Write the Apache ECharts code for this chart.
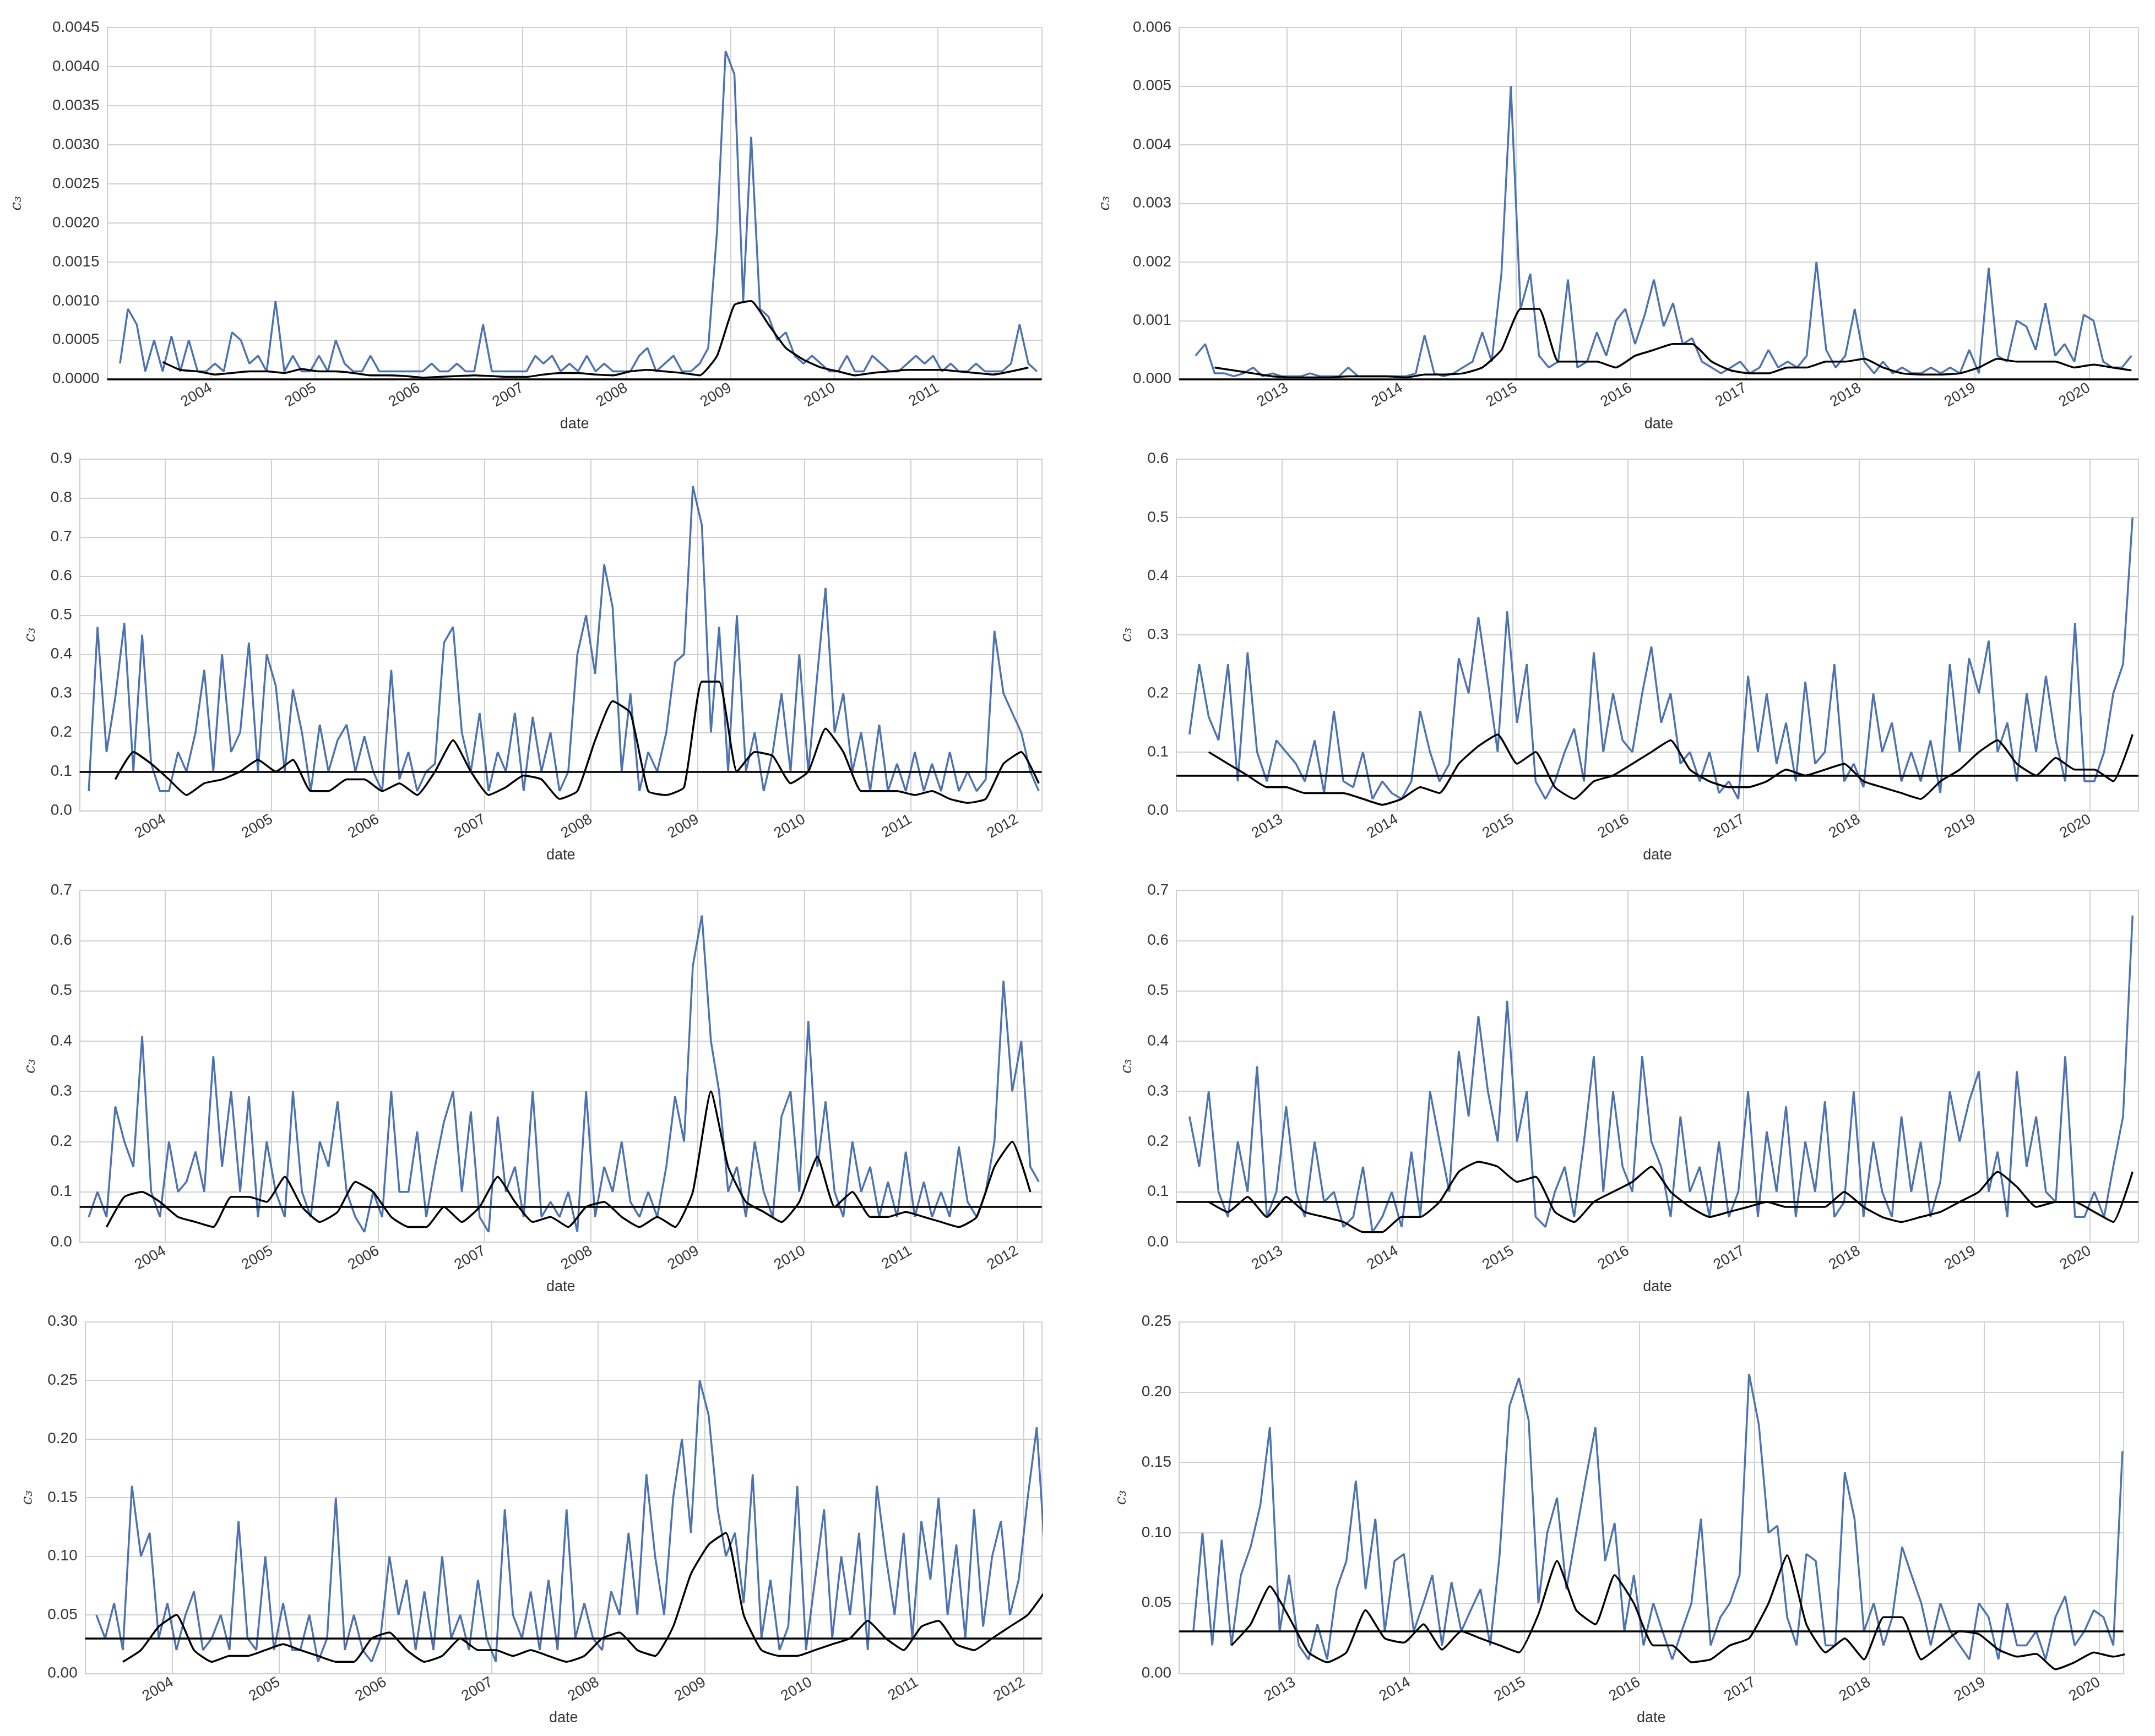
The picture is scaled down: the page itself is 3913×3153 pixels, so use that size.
<!DOCTYPE html>
<html><head><meta charset="utf-8">
<script src="https://cdn.jsdelivr.net/npm/echarts@6/dist/echarts.min.js"></script>
<style>html,body{margin:0;padding:0;background:#fff}#c{width:3913px;height:3153px}</style>
</head><body><div id="c"></div>
<script>
// ---------- data (monthly blue values, bi-monthly moving average, overall mean) ----------
const blueA_start='2003-02';
const blueA=[.0002,.0009,.0007,.0001,.0005,.0001,.00055,.0001,.0005,.0001,.0001,
.0002,.0001,.0006,.0005,.0002,.0003,.0001,.001,.0001,.0003,.0001,.0001,
.0003,.0001,.0005,.0002,.0001,.0001,.0003,.0001,.0001,.0001,.0001,.0001,
.0001,.0002,.0001,.0001,.0002,.0001,.0001,.0007,.0001,.0001,.0001,.0001,
.0001,.0003,.0002,.0003,.0001,.0002,.0001,.0003,.0001,.0002,.0001,.0001,
.0001,.0003,.0004,.0001,.0002,.0003,.0001,.0001,.0002,.0004,.0019,.0042,
.0039,.001,.0031,.0009,.0008,.0005,.0006,.0003,.0002,.0003,.0002,.0001,
.0001,.0003,.0001,.0001,.0003,.0002,.0001,.0001,.0002,.0003,.0002,.0003,
.0001,.0002,.0001,.0001,.0002,.0001,.0001,.0001,.0002,.0007,.0002,.0001];
const maA_start='2003-07';
const maA=[.00022,.00012,.0001,.00006,.00008,.0001,.0001,.00008,.00013,.0001,.0001,.00008,.00005,.00005,.00004,
.00002,.00003,.00004,.00005,.00004,.00003,.00003,.00006,.00008,.00008,.00006,.00005,.0001,.00012,.0001,.00008,.00005,.0003,
.00095,.001,.0007,.0004,.00025,.00015,.0001,.00005,.00008,.0001,.00012,.00012,.00012,.0001,.00008,.00006,.0001,.00015];
const meanA=0.00012;

const blueB_start='2012-03';
const blueB=[.0004,.0006,.0001,.0001,.00005,.0001,.0002,.00005,.0001,.00005,
.00005,.00005,.0001,.00005,.00005,.00005,.0002,.00005,.00005,.00005,.00005,.00005,
.00005,.0001,.00075,.0001,.00005,.0001,.0002,.0003,.0008,.0003,.0018,.005,
.0012,.0018,.0004,.0002,.0003,.0017,.0002,.0003,.0008,.0004,.001,.0012,
.0006,.0011,.0017,.0009,.0013,.0006,.0007,.0003,.0002,.0001,.0002,.0003,
.0001,.0002,.0005,.0002,.0003,.0002,.0004,.002,.0005,.0002,.0004,.0012,
.0003,.0001,.0003,.0001,.0002,.0001,.0001,.0002,.0001,.0002,.0001,.0005,
.0001,.0019,.0004,.0003,.001,.0009,.0005,.0013,.0004,.0006,.0003,.0011,
.001,.0003,.0002,.0002,.0004];
const maB_start='2012-05';
const maB=[.0002,.00015,.0001,.00005,.00003,.00003,.00003,.00005,.00005,.00005,
.00003,.00008,.00008,.0001,.0002,.0005,.0012,.0012,.0003,.0003,.0003,.0002,
.0004,.0005,.0006,.0006,.0003,.00015,.0001,.0001,.0002,.0002,.0003,.0003,
.00035,.0002,.0001,.00008,.00008,.0001,.0002,.00035,.0003,.0003,.0003,.0002,.00025,.0002,.00015];
const meanB=0.00019;

const blueC_start='2003-04';
const blueC=[.05,.47,.15,.29,.48,.1,.45,.12,.05,
.05,.15,.1,.2,.36,.1,.4,.15,.2,.43,.1,.4,
.32,.1,.31,.2,.05,.22,.1,.18,.22,.1,.19,.1,
.05,.36,.08,.15,.05,.1,.12,.43,.47,.2,.1,.25,
.05,.15,.1,.25,.05,.24,.1,.2,.05,.1,.4,.5,
.35,.63,.52,.1,.3,.05,.15,.1,.2,.38,.4,.83,
.73,.2,.47,.1,.5,.1,.2,.05,.15,.3,.1,.4,
.1,.35,.57,.2,.3,.1,.2,.05,.22,.05,.12,.05,
.15,.05,.12,.05,.15,.05,.1,.05,.08,.46,.3,.25,
.2,.1,.05];
const maC_start='2003-07';
const maC=[.08,.15,.12,.08,.04,.07,.08,.1,.13,.1,.13,.05,.05,.08,.08,
.05,.07,.04,.1,.18,.1,.04,.06,.09,.08,.03,.05,.18,.28,.25,.05,.04,.06,
.33,.33,.1,.15,.14,.07,.1,.21,.15,.05,.05,.05,.04,.05,.03,.02,.03,.12,.15,.07];
const meanC=0.095;

const blueD_start='2012-03';
const blueD=[.13,.25,.16,.12,.25,.05,.27,.1,.05,.12,
.1,.08,.05,.12,.03,.17,.05,.04,.1,.02,.05,.03,
.02,.05,.17,.1,.05,.08,.26,.2,.33,.22,.1,.34,
.15,.25,.05,.02,.05,.1,.14,.05,.27,.1,.2,.12,
.1,.2,.28,.15,.2,.08,.1,.05,.1,.03,.05,.02,
.23,.1,.2,.08,.15,.05,.22,.08,.1,.25,.05,.08,
.04,.2,.1,.15,.05,.1,.05,.12,.03,.25,.1,.26,
.2,.29,.1,.15,.05,.2,.1,.23,.12,.05,.32,.05,
.05,.1,.2,.25,.5];
const maD_start='2012-05';
const maD=[.1,.08,.06,.04,.04,.03,.03,.03,.02,.01,.02,.04,.03,.08,.11,.13,
.08,.1,.04,.02,.05,.06,.08,.1,.12,.07,.05,.04,.04,.05,.07,.06,.07,.08,
.05,.04,.03,.02,.05,.07,.1,.12,.08,.06,.09,.07,.07,.05,.13];
const meanD=0.055;

const blueE_start='2003-04';
const blueE=[.05,.1,.05,.27,.2,.15,.41,.1,.05,
.2,.1,.12,.18,.1,.37,.15,.3,.1,.29,.05,.2,
.1,.05,.3,.1,.05,.2,.15,.28,.1,.05,.02,.1,
.05,.3,.1,.1,.22,.05,.15,.24,.3,.1,.26,.05,
.02,.25,.1,.15,.05,.3,.05,.08,.05,.1,.02,.3,
.05,.15,.1,.2,.08,.05,.1,.05,.15,.29,.2,.55,
.65,.4,.3,.1,.15,.05,.2,.1,.05,.25,.3,.1,
.44,.15,.28,.1,.05,.2,.1,.15,.05,.12,.05,.18,
.05,.12,.05,.1,.05,.19,.08,.05,.1,.2,.52,.3,
.4,.15,.12];
const maE_start='2003-06';
const maE=[.03,.09,.1,.08,.05,.04,.03,.09,.09,.08,.13,.07,.04,.06,.12,.1,
.05,.03,.03,.07,.04,.07,.13,.08,.04,.05,.03,.07,.08,.05,.03,.05,.03,.1,
.3,.15,.08,.06,.04,.08,.17,.07,.1,.05,.05,.06,.05,.04,.03,.05,.15,.2,.1];
const meanE=0.075;

const blueF_start='2012-03';
const blueF=[.25,.15,.3,.1,.05,.2,.1,.35,.05,.1,
.27,.1,.05,.2,.08,.1,.03,.05,.15,.02,.05,.1,
.03,.18,.05,.3,.2,.1,.38,.25,.45,.3,.2,.48,
.2,.3,.05,.03,.1,.15,.05,.2,.37,.1,.3,.15,
.1,.37,.2,.15,.05,.25,.1,.15,.05,.2,.05,.1,
.3,.05,.22,.1,.27,.05,.2,.1,.28,.05,.08,.3,
.05,.2,.1,.05,.25,.1,.2,.05,.12,.3,.2,.28,
.34,.1,.18,.05,.34,.15,.25,.1,.08,.37,.05,.05,
.1,.05,.15,.25,.65];
const maF_start='2012-05';
const maF=[.08,.06,.09,.05,.09,.06,.05,.04,.02,.02,.05,.05,.08,.14,.16,.15,
.12,.13,.06,.04,.08,.1,.12,.15,.1,.07,.05,.06,.07,.08,.07,.07,.07,.1,
.07,.05,.04,.05,.06,.08,.1,.14,.11,.07,.08,.08,.06,.04,.14];
const meanF=0.078;

const blueG_start='2003-04';
const blueG=[.05,.03,.06,.02,.16,.1,.12,.03,.06,
.02,.05,.07,.02,.03,.05,.02,.13,.03,.02,.1,.02,
.06,.02,.02,.05,.01,.03,.15,.02,.05,.02,.01,.03,
.1,.05,.08,.02,.07,.02,.1,.03,.05,.02,.08,.03,
.01,.14,.05,.03,.07,.02,.08,.02,.14,.03,.06,.03,
.02,.07,.05,.12,.05,.17,.1,.05,.15,.2,.12,.25,
.22,.14,.1,.12,.06,.17,.03,.08,.02,.04,.16,.02,
.08,.14,.03,.1,.05,.12,.02,.16,.1,.05,.12,.03,
.13,.08,.15,.05,.11,.03,.14,.04,.1,.13,.05,.08,
.15,.21,.1];
const maG_start='2003-07';
const maG=[.01,.02,.04,.05,.02,.01,.015,.015,.02,.025,.02,.015,.01,.01,.03,
.035,.02,.01,.015,.03,.02,.02,.015,.02,.015,.01,.015,.03,.035,.02,.015,.04,.085,
.11,.12,.05,.02,.015,.015,.02,.025,.03,.045,.03,.02,.04,.045,.025,.02,.03,.04,.05,.07];
const meanG=0.026;

const blueH_start='2012-02';
const blueH=[.03,.1,.02,.095,.02,.07,.09,.12,.175,.03,.07,
.02,.01,.035,.01,.06,.08,.137,.06,.11,.03,.08,.085,
.03,.05,.07,.02,.065,.03,.045,.06,.02,.085,.19,.21,
.18,.05,.1,.125,.06,.1,.138,.175,.08,.107,.03,.07,
.02,.05,.03,.01,.03,.05,.11,.02,.04,.05,.07,.213,
.177,.1,.105,.04,.02,.085,.08,.02,.02,.143,.11,.03,
.05,.02,.04,.09,.07,.05,.02,.05,.03,.02,.01,.05,
.04,.01,.05,.02,.02,.03,.01,.04,.055,.02,.03,.045,
.04,.02,.158];
const maH_start='2012-06';
const maH=[.02,.035,.062,.04,.015,.008,.015,.045,.025,.022,.035,.017,.03,.025,.02,.015,
.042,.08,.045,.035,.07,.05,.02,.02,.008,.01,.02,.025,.05,.084,.035,.015,.025,.01,
.04,.04,.01,.02,.03,.028,.017,.012,.014,.003,.008,.015,.012,.015];
const meanH=0.025;

// ---------- layout ----------
const S=2.4955;
const panels=[
 {b:blueA,bs:blueA_start,m:maA,ms:maA_start,mean:meanA,x0:78,x1:758,y0:20,y1:276,xmin:2003.0,xmax:2012.0,ymax:.0045,iv:.0005,dec:4},
 {b:blueB,bs:blueB_start,m:maB,ms:maB_start,mean:meanB,x0:858,x1:1556,y0:20,y1:276,xmin:2012.06,xmax:2020.43,ymax:.006,iv:.001,dec:3},
 {b:blueC,bs:blueC_start,m:maC,ms:maC_start,mean:meanC,x0:58,x1:758,y0:334,y1:590,xmin:2003.2,xmax:2012.23,ymax:.9,iv:.1,dec:1},
 {b:blueD,bs:blueD_start,m:maD,ms:maD_start,mean:meanD,x0:856,x1:1556,y0:334,y1:590,xmin:2012.09,xmax:2020.42,ymax:.6,iv:.1,dec:1},
 {b:blueE,bs:blueE_start,m:maE,ms:maE_start,mean:meanE,x0:58,x1:758,y0:648,y1:904,xmin:2003.2,xmax:2012.23,ymax:.7,iv:.1,dec:1},
 {b:blueF,bs:blueF_start,m:maF,ms:maF_start,mean:meanF,x0:856,x1:1556,y0:648,y1:904,xmin:2012.09,xmax:2020.42,ymax:.7,iv:.1,dec:1},
 {b:blueG,bs:blueG_start,m:maG,ms:maG_start,mean:meanG,x0:62,x1:758,y0:962,y1:1218,xmin:2003.18,xmax:2012.17,ymax:.30,iv:.05,dec:2},
 {b:blueH,bs:blueH_start,m:maH,ms:maH_start,mean:meanH,x0:858,x1:1545,y0:962,y1:1218,xmin:2012.0,xmax:2020.21,ymax:.25,iv:.05,dec:2}
];
function yearToMs(y){const yi=Math.floor(y);const a=Date.UTC(yi,0,1),b=Date.UTC(yi+1,0,1);return a+(y-yi)*(b-a);}
function series(vals,start,step){const [y,m]=start.split('-').map(Number);return vals.map((v,i)=>{const mm=m-1+i*step;return [Date.UTC(y+Math.floor(mm/12),mm%12,15),v];});}
const grid=[],xAxis=[],yAxis=[],ser=[];
panels.forEach((p,i)=>{
 const mn=yearToMs(p.xmin),mx=yearToMs(p.xmax);
 grid.push({left:p.x0*S,width:(p.x1-p.x0)*S,top:p.y0*S,height:(p.y1-p.y0)*S,containLabel:false});
 xAxis.push({type:'time',gridIndex:i,min:mn,max:mx,splitNumber:9,
  minInterval:365*86400000,
  name:'date',nameLocation:'middle',nameGap:68,nameTextStyle:{fontSize:27,color:'#333',fontFamily:'Liberation Sans'},
  axisLine:{show:true,lineStyle:{color:'#ccc',width:2}},axisTick:{show:false},
  axisLabel:{rotate:30,fontSize:27,color:'#333',fontFamily:'Liberation Sans',margin:14,showMinLabel:false,showMaxLabel:false,
   formatter:v=>{const d=new Date(v);if(v<=mn+86400000||v>=mx-86400000)return '';return (d.getUTCMonth()===0&&d.getUTCDate()===1)?String(d.getUTCFullYear()):'';},hideOverlap:false},
  splitLine:{show:true,lineStyle:{color:'#d0d0d0',width:2}}});
 yAxis.push({type:'value',gridIndex:i,min:0,max:p.ymax,interval:p.iv,
  name:'c\u2083',nameLocation:'middle',nameGap:p.dec===4?150:(p.dec===3?120:(p.dec===2?90:75)),nameRotate:90,
  nameTextStyle:{fontSize:28,color:'#333',fontStyle:'italic',fontFamily:'DejaVu Serif'},
  axisLine:{show:true,lineStyle:{color:'#ccc',width:2}},axisTick:{show:false},
  axisLabel:{fontSize:28,color:'#333',fontFamily:'Liberation Sans',formatter:v=>v.toFixed(p.dec),margin:14},
  splitLine:{show:true,lineStyle:{color:'#d0d0d0',width:2}}});
 ser.push({type:'line',xAxisIndex:i,yAxisIndex:i,data:series(p.b,p.bs,1),showSymbol:false,
  lineStyle:{color:'#4c72b0',width:3.5},itemStyle:{color:'#4c72b0'},z:2,animation:false});
 ser.push({type:'line',xAxisIndex:i,yAxisIndex:i,data:series(p.m,p.ms,2),showSymbol:false,smooth:0.15,
  lineStyle:{color:'#000',width:3.5},itemStyle:{color:'#000'},z:3,animation:false,
  markLine:{symbol:'none',silent:true,label:{show:false},lineStyle:{color:'#000',width:3.5,type:'solid'},data:[{yAxis:p.mean}],animation:false}});
});
const chart=echarts.init(document.getElementById('c'),null,{renderer:'canvas'});
chart.setOption({backgroundColor:'#fff',animation:false,grid,xAxis,yAxis,series:ser});
</script></body></html>
